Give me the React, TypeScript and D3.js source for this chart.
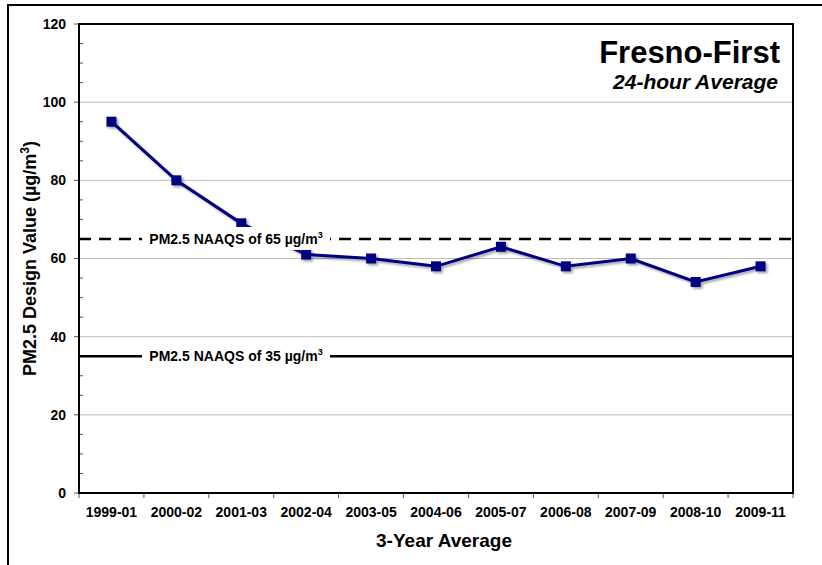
import React from "react";
import * as d3 from "d3";

const categories = ["1999-01","2000-02","2001-03","2002-04","2003-05","2004-06","2005-07","2006-08","2007-09","2008-10","2009-11"];
const values = [95, 80, 69, 61, 60, 58, 63, 58, 60, 54, 58];
const yTicks = [0, 20, 40, 60, 80, 100, 120];
const yMinorTicks = d3.range(0, 121, 5);
const standardValues = [65, 35];
const standardNumbers = ["65", "35"];
const standardDashed = [true, false];
const title = "Fresno-First";
const subtitle = "24-hour Average";
const xTitle = "3-Year Average";

const W = 822, H = 565;
const L = 79, T = 24, R = 793, B = 493;
const FONT = "Arial, 'Liberation Sans', Helvetica, sans-serif";

export default function App() {
  const x = d3.scaleBand<string>().domain(categories).range([L, R]);
  const y = d3.scaleLinear().domain([0, 120]).range([B, T]);
  const line = d3.line<number>()
    .x((_, i) => (x(categories[i]) as number) + x.bandwidth() / 2)
    .y((d) => y(d));
  const bounds = [...categories.map((c) => x(c) as number), R];
  const boxCx = 236;
  return (
    <div style={{ position: "absolute", left: 0, top: 0 }}>
      <svg width={W} height={H} style={{ display: "block", fontFamily: FONT }}>
        <defs>
          <filter id="sh" x="-20%" y="-20%" width="140%" height="140%">
            <feDropShadow dx="2" dy="2" stdDeviation="1" floodColor="#000" floodOpacity="0.35" />
          </filter>
        </defs>
        <rect x={0} y={0} width={W} height={H} fill="#fff" />
        <line x1={8} y1={5} x2={W} y2={5} stroke="#000" strokeWidth={2} />
        <line x1={8} y1={4} x2={8} y2={H} stroke="#000" strokeWidth={2} />
        {yTicks.filter((t) => t > 0 && t < 120).map((t) => (
          <line key={t} x1={L} x2={R} y1={y(t)} y2={y(t)} stroke="#bdbdbd" strokeWidth={1} />
        ))}
        {yMinorTicks.filter((t) => t % 20 !== 0).map((t) => (
          <line key={t} x1={L} x2={L + 4} y1={y(t)} y2={y(t)} stroke="#555" strokeWidth={1} />
        ))}
        {yTicks.map((t) => (
          <g key={t}>
            <line x1={L - 5} x2={L} y1={y(t)} y2={y(t)} stroke="#555" strokeWidth={1} />
            <text x={66} y={y(t)} dy="0.35em" textAnchor="end" fontSize={14} fontWeight="bold">{t}</text>
          </g>
        ))}
        {bounds.map((b, i) => (
          <line key={i} x1={b} x2={b} y1={B} y2={B + 5} stroke="#555" strokeWidth={1} />
        ))}
        {categories.map((c) => (
          <text key={c} x={(x(c) as number) + x.bandwidth() / 2} y={517} textAnchor="middle" fontSize={14} fontWeight="bold">{c}</text>
        ))}
        <rect x={L} y={T} width={R - L} height={B - T} fill="none" stroke="#000" strokeWidth={2} />
        <g filter="url(#sh)">
          <path d={line(values) as string} fill="none" stroke="#000080" strokeWidth={3} />
          {values.map((v, i) => (
            <rect key={i} x={(x(categories[i]) as number) + x.bandwidth() / 2 - 5} y={y(v) - 5} width={10} height={10} fill="#000080" />
          ))}
        </g>
        {standardValues.map((v, i) => (
          <g key={v}>
            <line x1={L} x2={R} y1={y(v)} y2={y(v)} stroke="#000" strokeWidth={2.5} strokeDasharray={standardDashed[i] ? "12 8" : undefined} />
            <rect x={boxCx - 94} y={y(v) - 12} width={188} height={23} fill="#fff" />
            <text x={boxCx} y={y(v)} dy="0.35em" textAnchor="middle" fontSize={14} fontWeight="bold">
              {`PM2.5 NAAQS  of ${standardNumbers[i]} µg/m`}
              <tspan fontSize={9} dy="-6">3</tspan>
            </text>
          </g>
        ))}
        <text x={780} y={63} textAnchor="end" fontSize={31} fontWeight="bold">{title}</text>
        <text x={778} y={89} textAnchor="end" fontSize={21} fontWeight="bold" fontStyle="italic">{subtitle}</text>
        <text x={444} y={547} textAnchor="middle" fontSize={19} fontWeight="bold">{xTitle}</text>
        <text transform={`translate(36,${(T + B) / 2}) rotate(-90)`} textAnchor="middle" fontSize={18} fontWeight="bold">
          PM2.5 Design Value (µg/m<tspan fontSize={12} dy="-7">3</tspan><tspan dy="7">)</tspan>
        </text>
      </svg>
    </div>
  );
}
